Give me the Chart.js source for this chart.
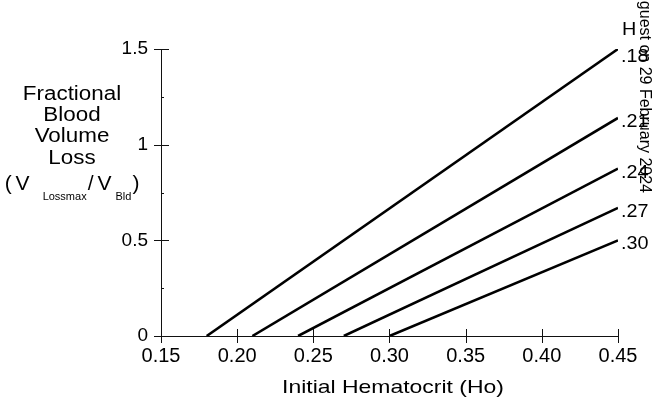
<!DOCTYPE html>
<html>
<head>
<meta charset="utf-8">
<script src="https://cdn.jsdelivr.net/npm/chart.js@4"></script>
<style>
  html, body { margin: 0; padding: 0; background: #fff; }
  canvas { display: block; }
</style>
</head>
<body>
<canvas id="chart" width="652" height="397"></canvas>
<script>
// initial hematocrit at which each curve starts (Ht) and value at Ho = 0.45
const curveStarts = [0.18, 0.21, 0.24, 0.27, 0.30];
const curveLabels = [".18", ".21", ".24", ".27", ".30"];
const endHematocrit = 0.45;
const lossAtEnd = [1.5, 1.14, 0.875, 0.67, 0.5];

const xTickValues = [0.15, 0.2, 0.25, 0.3, 0.35, 0.4, 0.45];
const yTickValues = [0, 0.5, 1, 1.5];
const yMinorValues = [0.25, 0.75, 1.25];

const FONT = "'Liberation Sans', Arial, Helvetica, sans-serif";

const datasets = curveStarts.map(function (ht, i) {
  return {
    label: curveLabels[i],
    data: [
      { x: ht, y: 0 },
      { x: endHematocrit, y: lossAtEnd[i] },
    ],
    showLine: true,
    borderColor: "#000",
    borderWidth: 2.6,
    pointRadius: 0,
    fill: false,
  };
});

function stretchText(ctx, text, x, y, sx, align) {
  ctx.save();
  ctx.translate(x, y);
  ctx.scale(sx, 1);
  ctx.textAlign = align;
  ctx.fillText(text, 0, 0);
  ctx.restore();
}

const decorations = {
  id: "decorations",
  afterDraw(chart) {
    const ctx = chart.ctx;
    const xs = chart.scales.x;
    const ys = chart.scales.y;
    const x0 = xs.getPixelForValue(xTickValues[0]);
    const x1 = xs.getPixelForValue(xTickValues[xTickValues.length - 1]);
    const y0 = ys.getPixelForValue(0);
    const yTop = ys.getPixelForValue(yTickValues[yTickValues.length - 1]);

    ctx.save();
    ctx.strokeStyle = "#111";
    ctx.lineWidth = 1;

    // axes
    ctx.beginPath();
    ctx.moveTo(x0 + 0.5, yTop);
    ctx.lineTo(x0 + 0.5, y0);
    ctx.moveTo(x0, y0 + 0.5);
    ctx.lineTo(x1, y0 + 0.5);
    ctx.stroke();

    // y ticks
    ctx.beginPath();
    yTickValues.forEach(function (v) {
      const y = Math.round(ys.getPixelForValue(v)) + 0.5;
      ctx.moveTo(x0 - 7, y);
      ctx.lineTo(x0 + 8, y);
    });
    yMinorValues.forEach(function (v) {
      const y = Math.round(ys.getPixelForValue(v)) + 0.5;
      ctx.moveTo(x0, y);
      ctx.lineTo(x0 + 3, y);
    });
    // x ticks
    xTickValues.forEach(function (v) {
      const x = Math.round(xs.getPixelForValue(v)) + 0.5;
      ctx.moveTo(x, y0 - 7);
      ctx.lineTo(x, y0 + 7);
    });
    ctx.stroke();

    ctx.fillStyle = "#000";
    ctx.textBaseline = "alphabetic";

    // x title
    ctx.font = "18.5px " + FONT;
    stretchText(ctx, "Initial Hematocrit (Ho)", 393, 393, 1.24, "center");

    // y title
    const cx = 72;
    ctx.font = "20px " + FONT;
    stretchText(ctx, "Fractional", cx, 100, 1.12, "center");
    stretchText(ctx, "Blood", cx, 121, 1.12, "center");
    stretchText(ctx, "Volume", cx, 142, 1.12, "center");
    stretchText(ctx, "Loss", cx, 164, 1.12, "center");

    const parts = [
      { t: "(", size: 21, dy: 0, gap: 4 },
      { t: "V", size: 21, dy: 0, gap: 13 },
      { t: "Lossmax", size: 11, dy: 10, gap: 1 },
      { t: "/", size: 21, dy: 0, gap: 4 },
      { t: "V", size: 21, dy: 0, gap: 4 },
      { t: "Bld", size: 11, dy: 10, gap: 1 },
      { t: ")", size: 21, dy: 0, gap: 0 },
    ];
    let total = 0;
    parts.forEach(function (p) {
      ctx.font = p.size + "px " + FONT;
      p.w = ctx.measureText(p.t).width;
      total += p.w + p.gap;
    });
    let px = cx - total / 2;
    ctx.textAlign = "left";
    parts.forEach(function (p) {
      ctx.font = p.size + "px " + FONT;
      ctx.fillText(p.t, px, 190 + p.dy);
      px += p.w + p.gap;
    });

    // curve labels at right
    ctx.font = "18px " + FONT;
    ctx.textBaseline = "middle";
    stretchText(ctx, "H", x1 + 4, 30, 1.1, "left");
    curveLabels.forEach(function (lab, i) {
      const y = ys.getPixelForValue(lossAtEnd[i]) + (i === 0 ? 8 : 4);
      stretchText(ctx, lab, x1 + 3, y, 1.1, "left");
    });

    // download stamp along right edge
    ctx.save();
    ctx.translate(644, 193);
    ctx.rotate(Math.PI / 2);
    ctx.font = "16px " + FONT;
    ctx.textAlign = "right";
    ctx.textBaseline = "middle";
    ctx.fillText("guest on 29 February 2024", 0, 0);
    ctx.restore();

    ctx.restore();
  },
};

new Chart(document.getElementById("chart").getContext("2d"), {
  type: "scatter",
  data: { datasets: datasets },
  options: {
    responsive: false,
    animation: false,
    devicePixelRatio: 1,
    layout: { padding: { top: 49, right: 34, left: 0, bottom: 0 } },
    plugins: {
      legend: { display: false },
      tooltip: { enabled: false },
    },
    scales: {
      x: {
        type: "linear",
        min: 0.15,
        max: 0.45,
        border: { display: false },
        grid: { display: false, drawTicks: false },
        afterBuildTicks: function (scale) {
          scale.ticks = xTickValues.map(function (v) { return { value: v }; });
        },
        afterFit: function (scale) { scale.height = 61; },
        ticks: {
          padding: 8,
          color: "#000",
          font: { family: FONT, size: 20 },
          maxRotation: 0,
          autoSkip: false,
          callback: function (v) { return Number(v).toFixed(2); },
        },
      },
      y: {
        type: "linear",
        min: 0,
        max: 1.5,
        border: { display: false },
        grid: { display: false, drawTicks: false },
        afterBuildTicks: function (scale) {
          scale.ticks = yTickValues.map(function (v) { return { value: v }; });
        },
        afterFit: function (scale) { scale.width = 161; },
        ticks: {
          padding: 13,
          color: "#000",
          font: { family: FONT, size: 19 },
          autoSkip: false,
          callback: function (v) { return String(v); },
        },
      },
    },
  },
  plugins: [decorations],
});
</script>
</body>
</html>
